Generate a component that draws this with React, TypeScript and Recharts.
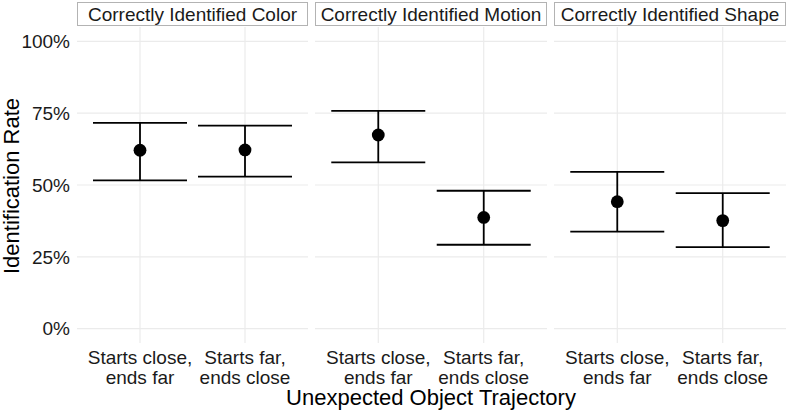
import { ScatterChart, Scatter, XAxis, YAxis, ErrorBar, ReferenceLine } from 'recharts';

const panels = ['Correctly Identified Color', 'Correctly Identified Motion', 'Correctly Identified Shape'];
const categories = ['Starts close, ends far', 'Starts far, ends close'];

// point estimate, lower and upper bound per panel (one entry per category)
const colorRate = [0.621, 0.622];
const colorLow = [0.516, 0.529];
const colorHigh = [0.716, 0.707];

const motionRate = [0.674, 0.387];
const motionLow = [0.579, 0.292];
const motionHigh = [0.758, 0.48];

const shapeRate = [0.442, 0.376];
const shapeLow = [0.338, 0.284];
const shapeHigh = [0.546, 0.472];

const yTicks = [0, 0.25, 0.5, 0.75, 1];
const xTicks = [1, 2];

const FONT = '"Liberation Sans", Arial, sans-serif';
const GRID = '#ebebeb';
const TXT = 19;
const PLOT_TOP = 27;
const PLOT_H = 316;
const CHART_H = 410;

function build(rate: number[], low: number[], high: number[]) {
  return rate.map((r, i) => ({ x: i + 1, y: r, err: [r - low[i], high[i] - r] }));
}

const panelData = [
  build(colorRate, colorLow, colorHigh),
  build(motionRate, motionLow, motionHigh),
  build(shapeRate, shapeLow, shapeHigh),
];

const layout = [
  { left: 0, width: 308, axis: 77 },
  { left: 315, width: 232, axis: 0 },
  { left: 554, width: 232, axis: 0 },
];

function XTick(props: any) {
  const { x, y, payload } = props;
  const label = categories[payload.value - 1] || '';
  const [a, b] = label.split(', ');
  return (
    <text x={x} y={y} textAnchor="middle" fontFamily={FONT} fontSize={TXT} fill="#1a1a1a">
      <tspan x={x} dy={13}>{a},</tspan>
      <tspan x={x} dy={20}>{b}</tspan>
    </text>
  );
}

function Dot(props: any) {
  return <circle cx={props.cx} cy={props.cy} r={6.4} fill="#000" />;
}

function Panel({ idx }: { idx: number }) {
  const l = layout[idx];
  return (
    <div style={{ position: 'absolute', left: l.left, top: 0 }}>
      <ScatterChart width={l.width} height={CHART_H} margin={{ top: PLOT_TOP, right: 0, bottom: 0, left: 0 }}>
        <XAxis
          type="number"
          dataKey="x"
          domain={[0.4, 2.6]}
          ticks={xTicks}
          axisLine={false}
          tickLine={false}
          height={CHART_H - PLOT_TOP - PLOT_H}
          tick={<XTick />}
          interval={0}
        />
        <YAxis
          type="number"
          dataKey="y"
          domain={[-0.05, 1.05]}
          ticks={yTicks}
          hide={idx !== 0}
          width={l.axis}
          axisLine={false}
          tickLine={false}
          tickSize={5}
          tickMargin={2}
          tickFormatter={(v) => `${Math.round(v * 100)}%`}
          tick={{ fill: '#1a1a1a', fontSize: TXT, fontFamily: FONT }}
        />
        {yTicks.map((t) => (
          <ReferenceLine key={'y' + t} y={t} stroke={GRID} strokeWidth={1.2} />
        ))}
        {xTicks.map((t) => (
          <ReferenceLine key={'x' + t} x={t} stroke={GRID} strokeWidth={1.2} />
        ))}
        <Scatter data={panelData[idx]} shape={<Dot />} isAnimationActive={false}>
          <ErrorBar dataKey="err" direction="y" width={47} stroke="#000" strokeWidth={1.8} />
        </Scatter>
      </ScatterChart>
      <div
        style={{
          position: 'absolute',
          left: l.axis,
          top: 2,
          width: l.width - l.axis - 2,
          height: 22,
          border: '1px solid #b3b3b3',
          fontFamily: FONT,
          fontSize: TXT,
          lineHeight: '23px',
          textAlign: 'center',
          color: '#1a1a1a',
          background: '#fff',
          whiteSpace: 'nowrap',
        }}
      >
        {panels[idx]}
      </div>
    </div>
  );
}

export default function App() {
  return (
    <div style={{ position: 'absolute', left: 0, top: 0, width: 787, height: 410, background: '#fff' }}>
      {panels.map((_, i) => (
        <Panel key={i} idx={i} />
      ))}
      <div
        style={{
          position: 'absolute',
          left: 12,
          top: 186,
          transform: 'translate(-50%, -50%) rotate(-90deg)',
          fontFamily: FONT,
          fontSize: 22,
          lineHeight: '22px',
          whiteSpace: 'nowrap',
          color: '#000',
        }}
      >
        Identification Rate
      </div>
      <div
        style={{
          position: 'absolute',
          left: 431,
          top: 398,
          transform: 'translate(-50%, -50%)',
          fontFamily: FONT,
          fontSize: 22,
          lineHeight: '22px',
          whiteSpace: 'nowrap',
          color: '#000',
        }}
      >
        Unexpected Object Trajectory
      </div>
    </div>
  );
}
